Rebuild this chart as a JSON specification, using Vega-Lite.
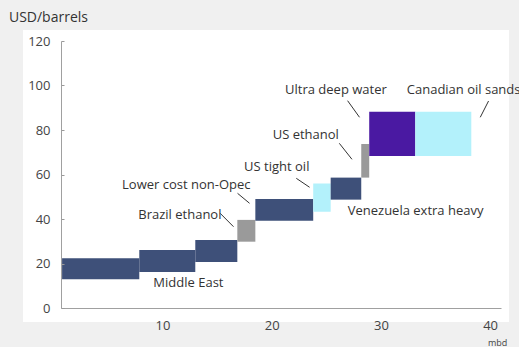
{
  "$schema": "https://vega.github.io/schema/vega-lite/v6.json",
  "width": 440,
  "height": 267,
  "autosize": {"type": "none"},
  "padding": {"left": 61, "top": 41, "right": 18, "bottom": 39},
  "background": "#f0f0f0",
  "config": {"view": {"stroke": null}, "font": "Open Sans"},
  "datasets": {
    "panel": [{"x0": -2.78, "x1": 41.73, "y0": -6.29, "y1": 124.9}],
    "bars": [
      {"name": "Middle East 1", "group": "conventional", "x0": 0.8, "x1": 7.87, "y0": 12.9, "y1": 22.4},
      {"name": "Middle East 2", "group": "conventional", "x0": 7.87, "x1": 13.0, "y0": 16.2, "y1": 26.1},
      {"name": "Middle East 3", "group": "conventional", "x0": 13.0, "x1": 16.85, "y0": 20.7, "y1": 30.6},
      {"name": "Brazil ethanol", "group": "ethanol", "x0": 16.85, "x1": 18.5, "y0": 29.8, "y1": 39.6},
      {"name": "Lower cost non-Opec", "group": "conventional", "x0": 18.5, "x1": 23.8, "y0": 39.2, "y1": 49.0},
      {"name": "US tight oil", "group": "tight", "x0": 23.8, "x1": 25.4, "y0": 43.3, "y1": 56.0},
      {"name": "Venezuela extra heavy", "group": "conventional", "x0": 25.4, "x1": 28.2, "y0": 48.7, "y1": 58.6},
      {"name": "US ethanol", "group": "ethanol", "x0": 28.2, "x1": 28.93, "y0": 58.6, "y1": 73.7},
      {"name": "Ultra deep water", "group": "deepwater", "x0": 28.93, "x1": 33.15, "y0": 68.3, "y1": 88.2},
      {"name": "Canadian oil sands", "group": "tight", "x0": 33.15, "x1": 38.28, "y0": 68.3, "y1": 88.2}
    ],
    "leaders": [
      {"x0": 15.28, "y0": 42.56, "x1": 16.5, "y1": 36.54},
      {"x0": 16.87, "y0": 51.55, "x1": 17.97, "y1": 47.06},
      {"x0": 22.25, "y0": 58.29, "x1": 23.47, "y1": 54.25},
      {"x0": 26.19, "y0": 74.02, "x1": 27.35, "y1": 66.83},
      {"x0": 26.95, "y0": 93.17, "x1": 28.04, "y1": 85.71},
      {"x0": 39.86, "y0": 93.03, "x1": 39.1, "y1": 85.71}
    ],
    "labels": [
      {"label": "Middle East", "x": 9.16, "y": 11.2},
      {"label": "Brazil ethanol", "x": 7.78, "y": 41.8},
      {"label": "Lower cost non-Opec", "x": 6.29, "y": 55.3},
      {"label": "US tight oil", "x": 17.47, "y": 63.2},
      {"label": "US ethanol", "x": 20.09, "y": 77.8},
      {"label": "Ultra deep water", "x": 21.22, "y": 98.0},
      {"label": "Canadian oil sands", "x": 32.37, "y": 98.0},
      {"label": "Venezuela extra heavy", "x": 26.96, "y": 43.7}
    ],
    "title": [{"label": "USD/barrels", "x": -4.07, "y": 130.2}],
    "unit": [{"label": "mbd", "x": 39.8, "y": -15.7}]
  },
  "encoding": {
    "x": {"type": "quantitative"},
    "y": {"type": "quantitative"}
  },
  "layer": [
    {
      "data": {"name": "panel"},
      "mark": {"type": "rect", "color": "white"},
      "encoding": {
        "x": {"field": "x0", "type": "quantitative", "scale": {"domain": [0.7, 41], "nice": false, "zero": false},
          "axis": {"values": [10, 20, 30, 40], "title": null, "ticks": false, "grid": false, "domainColor": "#a0a0a0", "labelColor": "#444", "labelFontSize": 13, "labelPadding": 11, "labelFont": "Open Sans", "zindex": 1}},
        "x2": {"field": "x1"},
        "y": {"field": "y0", "type": "quantitative", "scale": {"domain": [0, 120], "nice": false},
          "axis": {"values": [0, 20, 40, 60, 80, 100, 120], "title": null, "grid": false, "tickSize": -3, "tickColor": "#999", "domainColor": "#a0a0a0", "labelColor": "#444", "labelFontSize": 13, "labelPadding": 14, "labelFont": "Open Sans", "zindex": 1}},
        "y2": {"field": "y1"}
      }
    },
    {
      "data": {"name": "bars"},
      "mark": {"type": "rect"},
      "encoding": {
        "x": {"field": "x0", "type": "quantitative"},
        "x2": {"field": "x1"},
        "y": {"field": "y0", "type": "quantitative"},
        "y2": {"field": "y1"},
        "color": {"field": "group", "type": "nominal", "legend": null,
          "scale": {"domain": ["conventional", "ethanol", "tight", "deepwater"], "range": ["#3e5079", "#9a9a9a", "#b3f1fb", "#4a19a2"]}}
      }
    },
    {
      "data": {"name": "leaders"},
      "mark": {"type": "rule", "color": "#333", "strokeWidth": 1},
      "encoding": {
        "x": {"field": "x0", "type": "quantitative"},
        "x2": {"field": "x1"},
        "y": {"field": "y0", "type": "quantitative"},
        "y2": {"field": "y1"}
      }
    },
    {
      "data": {"name": "labels"},
      "mark": {"type": "text", "align": "left", "baseline": "middle", "fontSize": 13, "color": "#333", "font": "Open Sans"},
      "encoding": {
        "x": {"field": "x", "type": "quantitative"},
        "y": {"field": "y", "type": "quantitative"},
        "text": {"field": "label"}
      }
    },
    {
      "data": {"name": "title"},
      "mark": {"type": "text", "align": "left", "baseline": "middle", "fontSize": 14, "color": "#333", "font": "Open Sans"},
      "encoding": {
        "x": {"field": "x", "type": "quantitative"},
        "y": {"field": "y", "type": "quantitative"},
        "text": {"field": "label"}
      }
    },
    {
      "data": {"name": "unit"},
      "mark": {"type": "text", "align": "left", "baseline": "middle", "fontSize": 9, "color": "#444", "font": "Open Sans"},
      "encoding": {
        "x": {"field": "x", "type": "quantitative"},
        "y": {"field": "y", "type": "quantitative"},
        "text": {"field": "label"}
      }
    }
  ]
}
